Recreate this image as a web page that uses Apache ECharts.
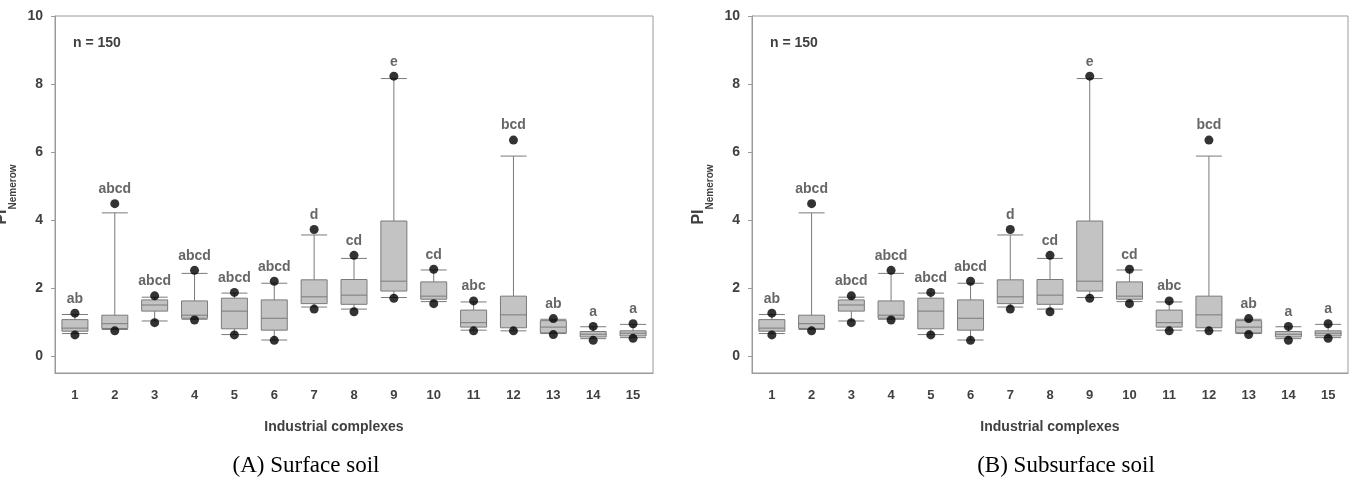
<!DOCTYPE html>
<html>
<head>
    <meta charset="utf-8">
    <title>PI Nemerow</title>
    <script src="https://cdn.jsdelivr.net/npm/echarts@6.0.0/dist/echarts.min.js"></script>
    <style>
        html, body { margin: 0; padding: 0; background: #fff; }
        #chart { width: 1353px; height: 480px; }
    </style>
</head>
<body>
<div id="chart"></div>
<script>
    // 数据（两个面板读数相同）
    var categories = ['1', '2', '3', '4', '5', '6', '7', '8', '9', '10', '11', '12', '13', '14', '15'];
    var whiskerLow  = [0.66, 0.78, 1.03, 1.08, 0.63, 0.47, 1.44, 1.38, 1.72, 1.60, 0.76, 0.74, 0.66, 0.51, 0.54];
    var q1          = [0.73, 0.81, 1.32, 1.11, 0.80, 0.76, 1.54, 1.52, 1.91, 1.67, 0.85, 0.83, 0.68, 0.56, 0.59];
    var median      = [0.82, 0.95, 1.50, 1.20, 1.32, 1.11, 1.74, 1.79, 2.20, 1.76, 0.98, 1.21, 0.85, 0.64, 0.67];
    var q3          = [1.07, 1.20, 1.65, 1.62, 1.70, 1.65, 2.24, 2.25, 3.97, 2.18, 1.35, 1.76, 1.04, 0.72, 0.74];
    var whiskerHigh = [1.22, 4.21, 1.73, 2.43, 1.85, 2.14, 3.56, 2.87, 8.16, 2.53, 1.59, 5.88, 1.08, 0.86, 0.93];
    var dotLow      = [0.62, 0.74, 0.98, 1.06, 0.62, 0.46, 1.38, 1.30, 1.70, 1.54, 0.74, 0.74, 0.63, 0.46, 0.52];
    var dotHigh     = [1.26, 4.48, 1.77, 2.52, 1.87, 2.20, 3.72, 2.96, 8.23, 2.55, 1.62, 6.35, 1.10, 0.87, 0.95];
    var letters     = ['ab', 'abcd', 'abcd', 'abcd', 'abcd', 'abcd', 'd', 'cd', 'e', 'cd', 'abc', 'bcd', 'ab', 'a', 'a'];
    var yTicks = [0, 2, 4, 6, 8, 10];
    var captions = ['(A) Surface soil', '(B) Subsurface soil'];

    var boxData = categories.map(function (c, i) {
        return [whiskerLow[i], q1[i], median[i], q3[i], whiskerHigh[i]];
    });

    var txt = '#404040';
    var axisColor = '#9a9a9a';
    var font = 'Liberation Sans, Arial, sans-serif';

    var grids = [
        {left: 55, top: 16, width: 598, height: 357},
        {left: 752, top: 16, width: 596, height: 357}
    ];

    var xAxes = [], yAxes = [], series = [];
    grids.forEach(function (g, i) {
        g.show = true;
        g.borderColor = axisColor;
        g.borderWidth = 1;
        g.containLabel = false;
        g.outerBoundsMode = 'none';
        xAxes.push({
            type: 'category',
            gridIndex: i,
            data: categories,
            axisLine: {onZero: false, lineStyle: {color: axisColor}},
            axisTick: {alignWithLabel: true, interval: 0, length: 5, lineStyle: {color: axisColor}},
            axisLabel: {interval: 0, margin: 16, color: txt, fontWeight: 'bold', fontSize: 13, fontFamily: font},
            name: 'Industrial complexes',
            nameLocation: 'middle',
            nameGap: 47,
            nameTextStyle: {color: txt, fontWeight: 'bold', fontSize: 14, fontFamily: font,
                padding: i === 0 ? [0, 40, 0, 0] : 0}
        });
        yAxes.push({
            type: 'value',
            gridIndex: i,
            min: -0.5,
            max: 10,
            splitLine: {show: false},
            axisLine: {show: true, lineStyle: {color: axisColor}},
            axisTick: {show: true, customValues: yTicks, length: 4, lineStyle: {color: axisColor}},
            axisLabel: {customValues: yTicks, margin: 12, color: txt, fontWeight: 'bold', fontSize: 14, fontFamily: font},
            name: '{a|PI}{b|Nemerow}',
            nameLocation: 'middle',
            nameRotate: 90,
            nameGap: 37,
            nameTextStyle: {
                rich: {
                    a: {fontSize: 16, fontWeight: 'bold', color: txt, fontFamily: font, lineHeight: 18, verticalAlign: 'top'},
                    b: {fontSize: 10, fontWeight: 'bold', color: txt, fontFamily: font, lineHeight: 24, verticalAlign: 'bottom'}
                }
            }
        });
        series.push({
            type: 'boxplot',
            xAxisIndex: i,
            yAxisIndex: i,
            data: boxData,
            boxWidth: [26, 26],
            itemStyle: {color: '#c3c3c3', borderColor: '#7a7a7a', borderWidth: 1}
        });
        series.push({
            type: 'scatter',
            xAxisIndex: i,
            yAxisIndex: i,
            data: dotLow,
            symbolSize: 9,
            itemStyle: {color: '#000'},
            z: 3
        });
        series.push({
            type: 'scatter',
            xAxisIndex: i,
            yAxisIndex: i,
            data: dotHigh,
            symbolSize: 9,
            itemStyle: {color: '#000'},
            z: 3,
            label: {
                show: true,
                position: 'top',
                distance: 3,
                formatter: function (p) { return letters[p.dataIndex]; },
                color: txt,
                fontWeight: 'bold',
                fontSize: 14,
                fontFamily: font
            }
        });
    });

    var myChart = echarts.init(document.getElementById('chart'));
    myChart.setOption({
        animation: false,
        backgroundColor: '#fff',
        grid: grids,
        xAxis: xAxes,
        yAxis: yAxes,
        series: series,
        graphic: [
            {type: 'text', left: 73, top: 36, style: {text: 'n = 150', fill: txt, font: 'bold 14px ' + font}},
            {type: 'text', left: 770, top: 36, style: {text: 'n = 150', fill: txt, font: 'bold 14px ' + font}},
            {type: 'text', x: 306, y: 466, style: {text: captions[0], fill: '#000', font: '23px Liberation Serif, Times New Roman, serif', align: 'center', verticalAlign: 'middle'}},
            {type: 'text', x: 1066, y: 466, style: {text: captions[1], fill: '#000', font: '23px Liberation Serif, Times New Roman, serif', align: 'center', verticalAlign: 'middle'}}
        ]
    });
</script>
</body>
</html>
